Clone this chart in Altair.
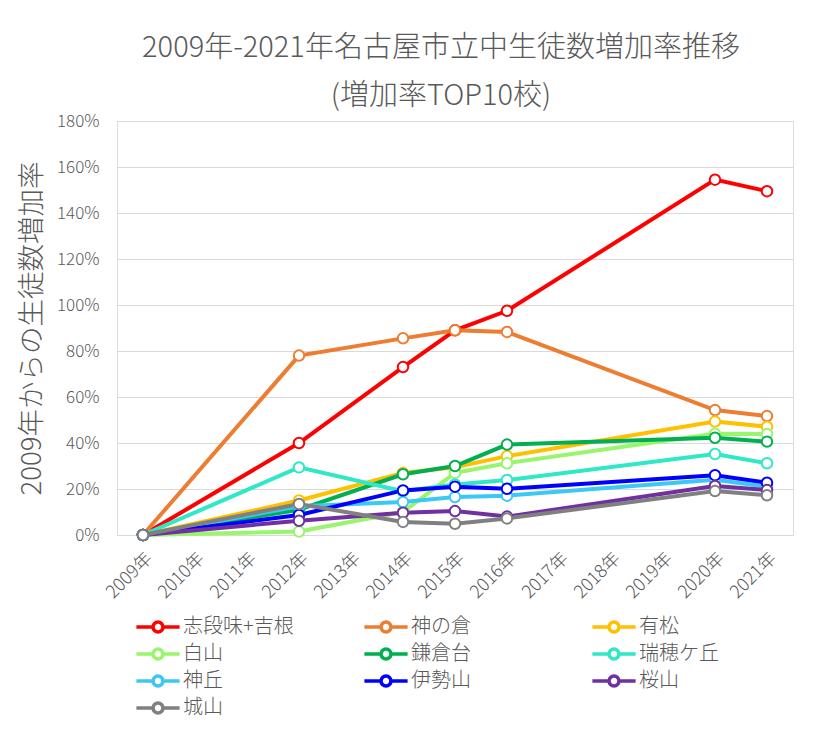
import altair as alt
import pandas as pd

# ---- data ----
axis_years = ["2009年", "2010年", "2011年", "2012年", "2013年", "2014年", "2015年",
              "2016年", "2017年", "2018年", "2019年", "2020年", "2021年"]
data_years = ["2009年", "2012年", "2014年", "2015年", "2016年", "2020年", "2021年"]

schools = ["志段味+吉根", "神の倉", "有松", "白山", "鎌倉台", "瑞穂ケ丘", "神丘", "伊勢山", "桜山", "城山"]
colors = ["#FF0000", "#ED7D31", "#FFC000", "#99F56B", "#00B050", "#2FE8C6", "#3CC8F5", "#0000FF", "#7030A0", "#808080"]

shidami = [0, 40.0, 73.0, 89.0, 97.5, 154.5, 149.5]
kaminokura = [0, 78.0, 85.5, 89.0, 88.3, 54.3, 51.7]
arimatsu = [0, 15.0, 27.0, 29.5, 34.3, 49.3, 47.1]
hakusan = [0, 1.5, 10.0, 27.0, 31.2, 44.0, 43.9]
kamakuradai = [0, 11.0, 26.4, 30.0, 39.3, 42.3, 40.6]
mizuhogaoka = [0, 29.4, 19.0, 22.0, 23.9, 35.2, 31.2]
kamioka = [0, 12.5, 14.3, 16.5, 17.1, 24.0, 21.0]
iseyama = [0, 8.7, 19.4, 21.0, 20.1, 26.0, 22.7]
sakurayama = [0, 6.2, 9.7, 10.4, 8.0, 21.3, 19.6]
shiroyama = [0, 13.5, 5.7, 4.9, 7.2, 19.1, 17.3]

series = [shidami, kaminokura, arimatsu, hakusan, kamakuradai,
          mizuhogaoka, kamioka, iseyama, sakurayama, shiroyama]

rows = []
for si, (name, vals) in enumerate(zip(schools, series)):
    for yi, (yr, v) in enumerate(zip(data_years, vals)):
        rows.append({"school": name, "year": yr, "rate": v / 100.0, "si": si, "yi": yi})
df = pd.DataFrame(rows)

FONT = "Noto Sans CJK JP"
GRAY = "#595959"

# legend symbol: a line with a hollow circle in the middle (unit = sqrt(size)/2 = 8px)
legend_path = ("M-2.7,0H-0.62M0.62,0H2.7M-0.62,0A0.62,0.62,0,1,0,0.62,0"
               "A0.62,0.62,0,1,0,-0.62,0Z")

color = alt.Color(
    "school:N",
    scale=alt.Scale(domain=schools, range=colors),
    sort=schools,
    legend=alt.Legend(
        title=None,
        orient="none",
        direction="horizontal",
        legendX=31,
        legendY=496,
        columns=3,
        gridAlign="all",
        columnPadding=63,
        rowPadding=3,
        symbolType=legend_path,
        symbolSize=256,
        symbolStrokeWidth=3.5,
        labelFontSize=20,
        labelOffset=15,
        labelColor=GRAY,
        labelFont=FONT,
        labelFontWeight=300,
        labelLimit=300,
    ),
)

x = alt.X(
    "year:O",
    scale=alt.Scale(domain=axis_years, type="point", padding=0.5),
    axis=alt.Axis(
        title=None,
        labelAngle=-45,
        labelFontSize=18,
        labelFontWeight=300,
        labelColor=GRAY,
        labelFont=FONT,
        ticks=False,
        domain=False,
        grid=False,
        labelPadding=14,
    ),
)
y = alt.Y(
    "rate:Q",
    scale=alt.Scale(domain=[0, 1.8], nice=False),
    axis=alt.Axis(
        title="2009年からの生徒数増加率",
        titleFontSize=27.5,
        titleFontWeight=300,
        titleColor=GRAY,
        titleFont=FONT,
        titlePadding=10,
        format="%",
        values=[0, 0.2, 0.4, 0.6, 0.8, 1.0, 1.2, 1.4, 1.6, 1.8],
        labelFontSize=17,
        labelFontWeight=300,
        labelColor=GRAY,
        labelFont=FONT,
        labelPadding=18,
        ticks=False,
        domain=False,
        gridColor="#D9D9D9",
        gridWidth=1.2,
    ),
)

lines = alt.Chart(df).mark_line(strokeWidth=4).encode(
    x=x, y=y, color=color, detail="school:N", order="yi:Q"
)
points = alt.Chart(df).mark_point(
    filled=False, fill="white", fillOpacity=1, opacity=1, size=110, strokeWidth=2
).encode(x=x, y=y, color=color)

chart = alt.layer(lines, points).properties(
    width=676,
    height=414,
    padding={"left": 109, "top": 113, "right": 10, "bottom": 195},
    autosize=alt.AutoSizeParams(type="none"),
    title=alt.TitleParams(
        text=["2009年-2021年名古屋市立中生徒数増加率推移", "(増加率TOP10校)"],
        fontSize=29,
        fontWeight=300,
        color=GRAY,
        font=FONT,
        lineHeight=48,
        anchor="middle",
        frame="group",
        offset=1,
        dx=-14,
    ),
).configure_view(stroke=None).configure(background="white")

chart.save("out.html", embed_options={"renderer": "svg", "actions": False})
